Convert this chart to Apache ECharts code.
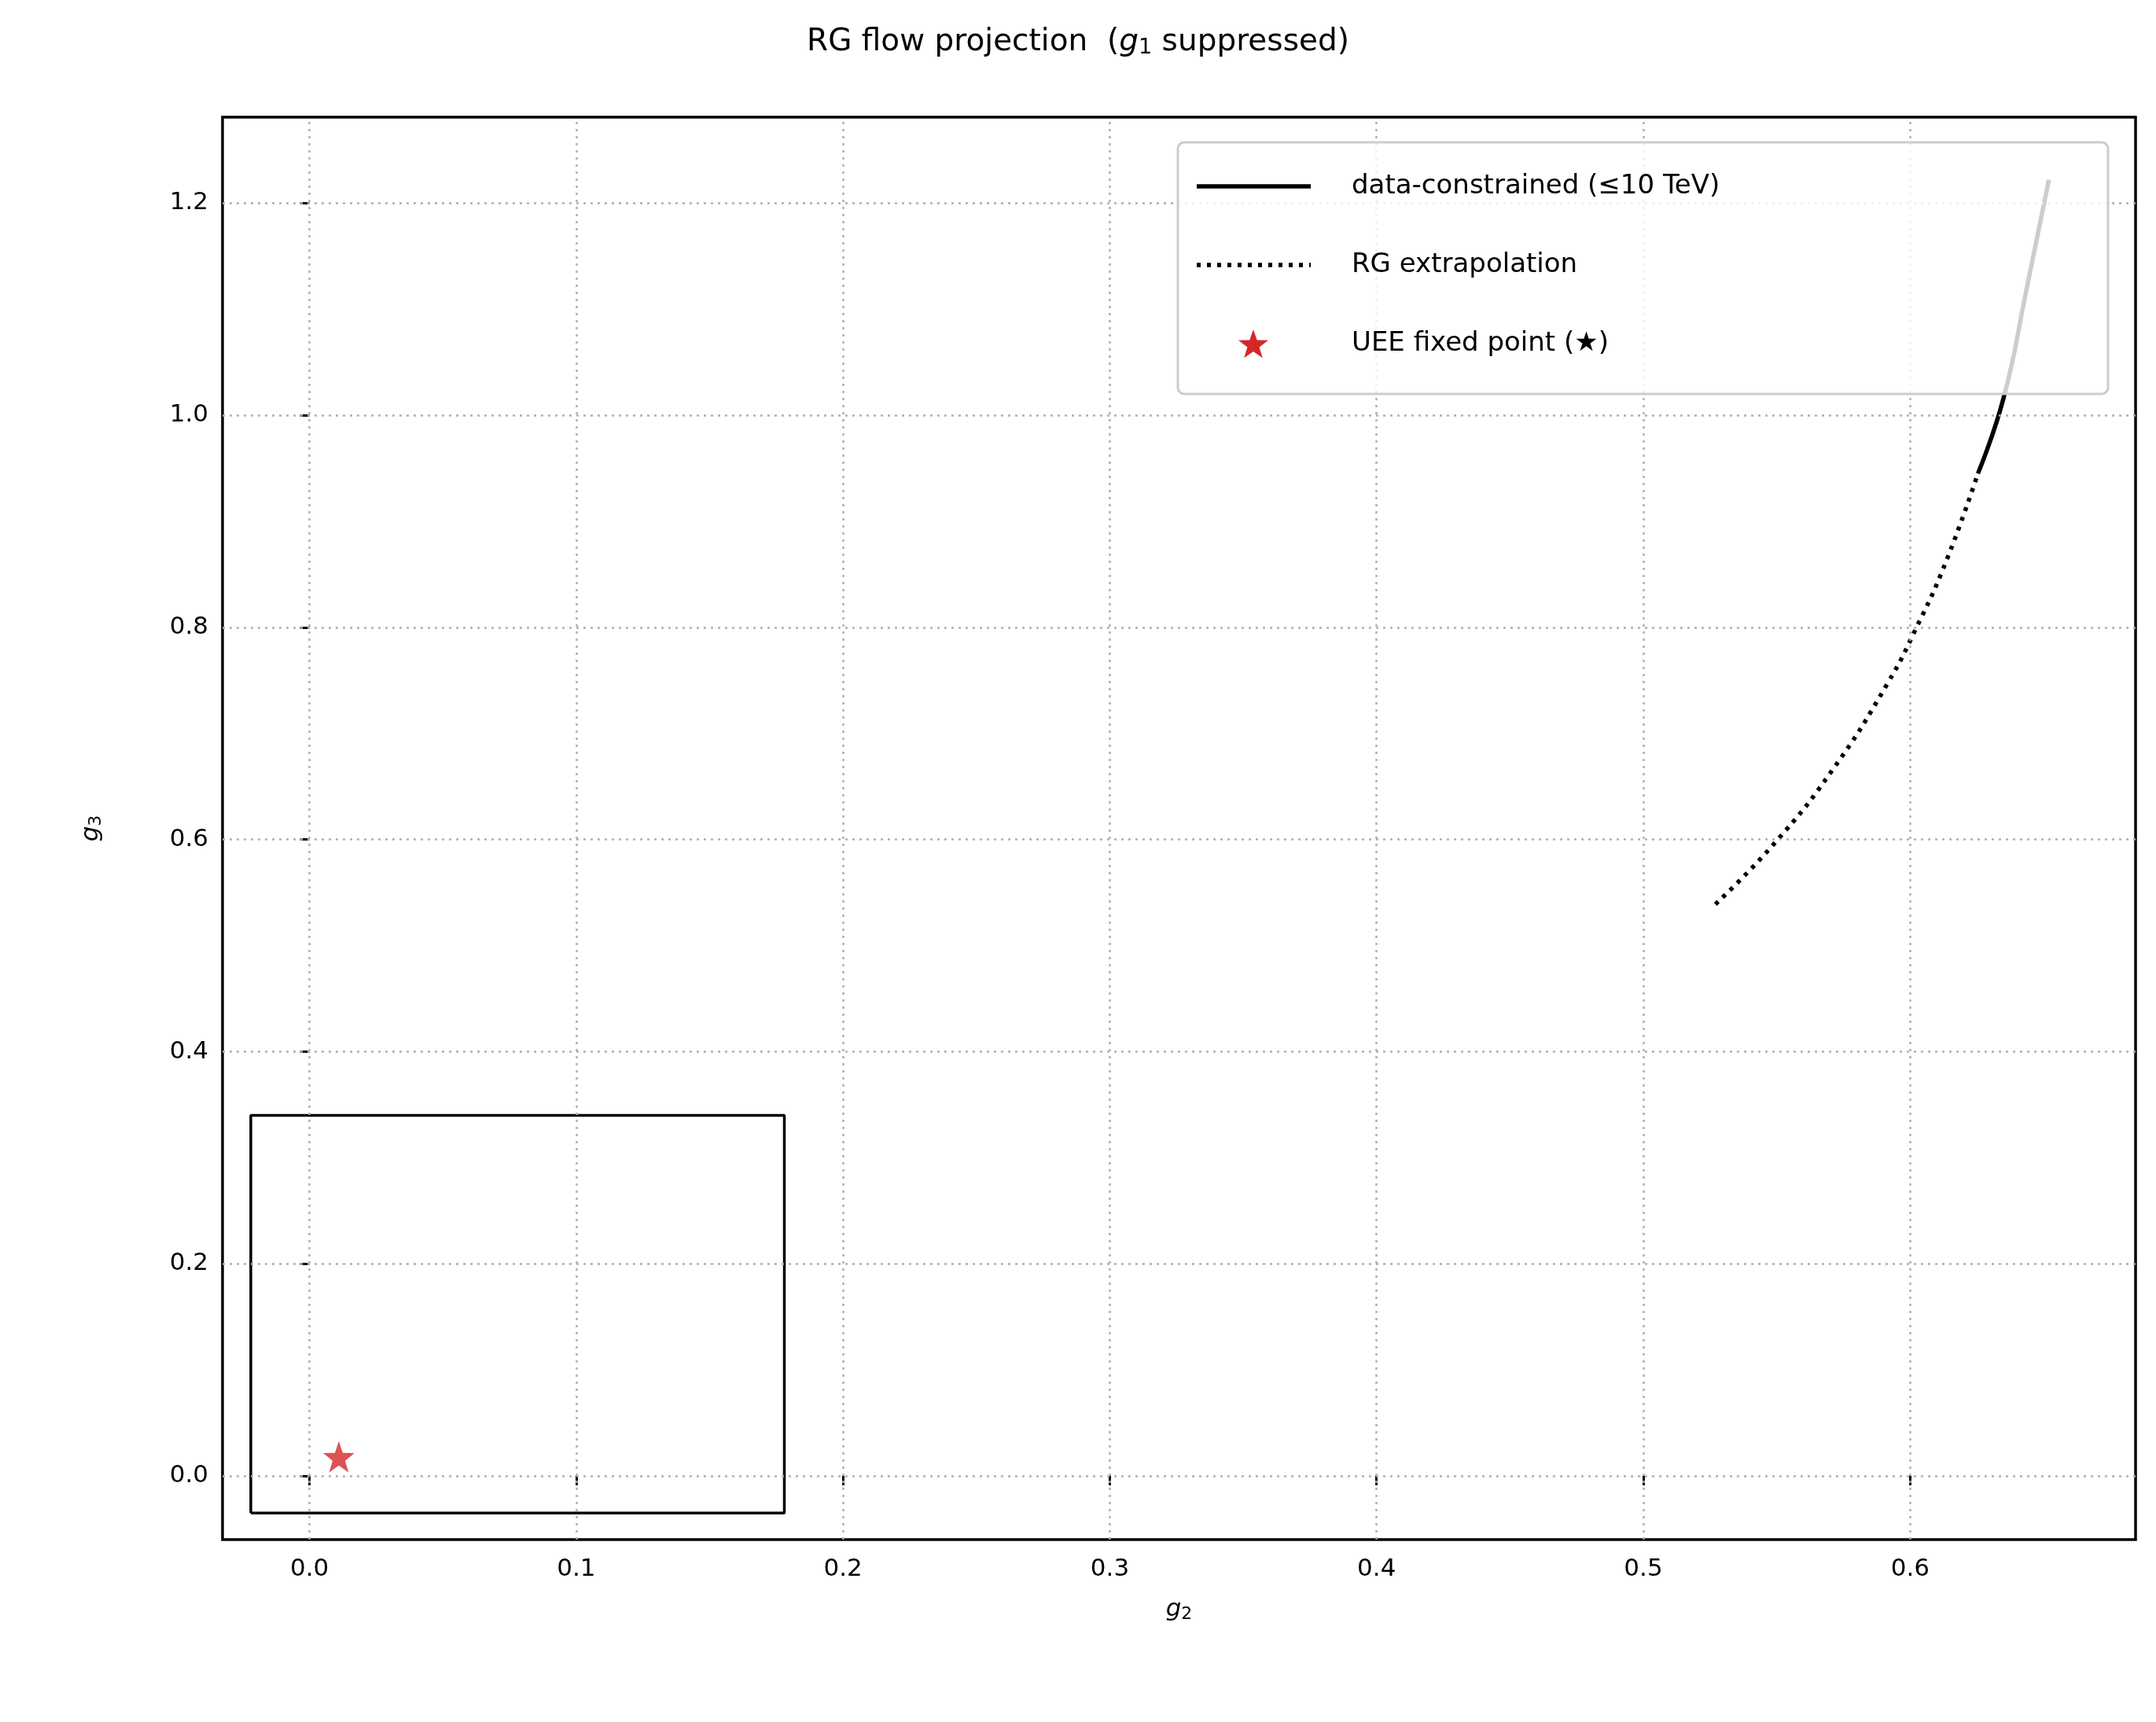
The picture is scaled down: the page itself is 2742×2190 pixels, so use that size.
<!DOCTYPE html>
<html><head><meta charset="utf-8">
<script src="https://cdn.jsdelivr.net/npm/echarts@6/dist/echarts.min.js"></script>
<style>html,body{margin:0;padding:0;background:#fff}#c{width:2742px;height:2190px}</style>
</head><body><div id="c"></div>
<script>
const xTicks = [0.0,0.1,0.2,0.3,0.4,0.5,0.6];
const yTicks = [0.0,0.2,0.4,0.6,0.8,1.0,1.2];
const extrapG2 = [0.527,0.549,0.571,0.5915,0.6024,0.6133,0.6254];
const extrapG3 = [0.539,0.596,0.666,0.747,0.800,0.861,0.945];
const dataG2 = [0.6254,0.635,0.6435,0.652];
const dataG3 = [0.945,1.016,1.117,1.222];
const boxG2 = [-0.022,0.178,0.178,-0.022,-0.022];
const boxG3 = [-0.035,-0.035,0.340,0.340,-0.035];
const fixedPoint = [0.011,0.018];
const STAR = 'path://M0,-10 L2.35,-3.24 L9.51,-3.09 L3.8,1.24 L5.88,8.09 L0,4 L-5.88,8.09 L-3.8,1.24 L-9.51,-3.09 L-2.35,-3.24 Z';
const starPts=[[0,-10],[2.35,-3.24],[9.51,-3.09],[3.8,1.24],[5.88,8.09],[0,4],[-5.88,8.09],[-3.8,1.24],[-9.51,-3.09],[-2.35,-3.24]];
const zip=(a,b)=>a.map((v,i)=>[v,b[i]]);
const F='DejaVu Sans';
const chart=echarts.init(document.getElementById('c'));
const L=1498,T=181,W=1183,H=320;
const rt={i:{fontFamily:F,fontSize:31,fontStyle:'italic',color:'#000'},s:{fontFamily:F,fontSize:22,color:'#000',padding:[12,0,0,0]}};
chart.setOption({
  animation:false,
  title:{text:'{n|RG flow projection  (}{i|g}{s|1}{n| suppressed)}',left:'center',top:28,
    textStyle:{fontWeight:'normal',rich:{n:{fontFamily:F,fontSize:39,fontWeight:'normal',color:'#000'},i:{fontFamily:F,fontSize:39,fontWeight:'normal',fontStyle:'italic',color:'#000'},s:{fontFamily:F,fontSize:27,fontWeight:'normal',color:'#000',padding:[14,0,0,0]}}}},
  grid:{left:283,right:26,top:149,bottom:232,show:true,borderColor:'#000',borderWidth:3.5},
  xAxis:{type:'value',min:-0.0326,max:0.6845,
    axisLine:{show:false},axisTick:{show:true,length:12,lineStyle:{color:'#000',width:3},customValues:xTicks},
    axisLabel:{fontFamily:F,fontSize:31,color:'#000',margin:22,customValues:xTicks,formatter:v=>v.toFixed(1)},
    splitLine:{show:false},
    name:'{i|g}{s|2}',nameLocation:'middle',nameGap:72,nameTextStyle:{rich:rt}},
  yAxis:{type:'value',min:-0.06,max:1.281,
    axisLine:{show:false},axisTick:{show:true,length:12,lineStyle:{color:'#000',width:3},customValues:yTicks},
    axisLabel:{fontFamily:F,fontSize:31,color:'#000',margin:18,customValues:yTicks,formatter:v=>v.toFixed(1)},
    splitLine:{show:false},
    name:'{i|g}{s|3}',nameLocation:'middle',nameGap:150,nameRotate:90,nameTextStyle:{rich:rt}},
  series:[
    {type:'line',data:[],symbol:'none',z:1,
      markLine:{silent:true,symbol:'none',label:{show:false},lineStyle:{color:'#b0b0b0',width:2.5,type:[3,6]},
        data:[...xTicks.map(v=>({xAxis:v})),...yTicks.map(v=>({yAxis:v}))]}},
    {type:'line',data:zip(boxG2,boxG3),symbol:'none',lineStyle:{color:'#000',width:3.5},z:3},
    {type:'line',data:zip(extrapG2,extrapG3),symbol:'none',smooth:true,lineStyle:{color:'#000',width:5.5,type:[5,8]},z:3},
    {type:'line',data:zip(dataG2,dataG3),symbol:'none',smooth:true,lineStyle:{color:'#000',width:5.5},z:3},
    {type:'scatter',data:[fixedPoint],symbol:STAR,symbolSize:40,itemStyle:{color:'#d62728'},z:4}
  ],
  graphic:[
    {type:'rect',shape:{x:L,y:T,width:W,height:H,r:8},style:{fill:'rgba(255,255,255,0.8)',stroke:'#cccccc',lineWidth:3},z:100},
    {type:'line',shape:{x1:L+24,y1:T+56,x2:L+169,y2:T+56},style:{stroke:'#000',lineWidth:5.5},z:101},
    {type:'line',shape:{x1:L+24,y1:T+156,x2:L+169,y2:T+156},style:{stroke:'#000',lineWidth:5.5,lineDash:[5,8]},z:101},
    {type:'polygon',shape:{points:starPts.map(p=>[L+96+p[0]*2,T+258+p[1]*2])},style:{fill:'#d62728'},z:101},
    {type:'text',x:L+221,y:T+56,style:{text:'data-constrained (≤10 TeV)',fontSize:34,fontFamily:F,fill:'#000',verticalAlign:'middle'},z:101},
    {type:'text',x:L+221,y:T+156,style:{text:'RG extrapolation',fontSize:34,fontFamily:F,fill:'#000',verticalAlign:'middle'},z:101},
    {type:'text',x:L+221,y:T+256,style:{text:'UEE fixed point (★)',fontSize:34,fontFamily:F,fill:'#000',verticalAlign:'middle'},z:101}
  ]
});
</script></body></html>
